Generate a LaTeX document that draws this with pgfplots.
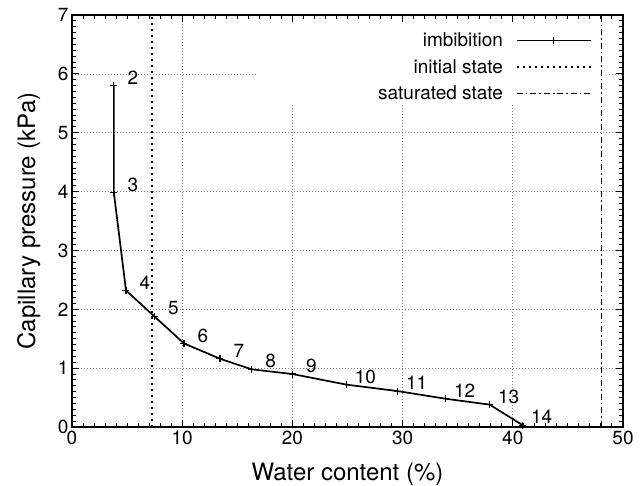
\documentclass[border=0pt]{standalone}
\usepackage{pgfplots}
\pgfplotsset{compat=1.18}
\usepackage{pgfplotstable}
\usepackage{fontspec}
\setmainfont{TeX Gyre Heros}

\pgfplotstableread{
x y lab
3.80 5.80 2
3.80 3.98 3
4.90 2.32 4
7.47 1.88 5
10.16 1.42 6
13.43 1.16 7
16.30 0.98 8
20.00 0.90 9
24.90 0.72 10
29.55 0.61 11
33.90 0.48 12
37.90 0.38 13
40.90 0.03 14
}\imbdata

\newcommand\tickfont{\fontsize{19}{22}\selectfont}
\newcommand\labfont{\fontsize{24}{28}\selectfont}

\begin{document}
\begin{tikzpicture}
\useasboundingbox (-72pt,-59pt) rectangle (572pt,427pt);
\begin{axis}[
 scale only axis, width=551pt, height=412pt,
 xmin=0,xmax=50,ymin=0,ymax=7,
 xtick={0,10,...,50}, ytick={0,1,...,7},
 minor tick num=9,
 tick align=inside,
 xtick pos=both, ytick pos=both,
 major tick length=7pt, minor tick length=4pt,
 every tick/.style={draw=black, line width=1pt},
 every minor tick/.style={draw=black, line width=1pt},
 axis line style={line width=1.4pt},
 grid=major,
 grid style={gray, line width=0.7pt, dash pattern=on 1pt off 2pt},
 /pgf/number format/assume math mode=true,
 ticklabel style={font=\tickfont},
 xlabel={Water content (\%)},
 ylabel={Capillary pressure (kPa)},
 label style={font=\labfont},
 xlabel style={at={(axis description cs:0.5,-0.087)}, anchor=north, inner sep=0pt},
 ylabel style={at={(axis description cs:-0.0998,0.5)}, anchor=north, inner sep=0pt},
 legend plot pos=right,
 legend cell align=right,
 legend style={at={(axis cs:47.19,6.70)}, anchor=north east, draw=none, fill=none, font=\tickfont, inner sep=0pt, row sep=11pt, column sep=13pt, nodes={inner sep=0pt}},
 legend image code/.code={\draw[mark repeat=2,mark phase=2,#1] plot coordinates {(0pt,0pt) (37pt,0pt) (74pt,0pt)};},
]
\fill[white] (axis cs:16.88,5.47) rectangle (axis cs:48.55,6.86);
\addplot[black, line width=1.7pt, mark=+, mark size=3.5pt, mark options={line width=1.1pt}, point meta=explicit symbolic, nodes near coords, every node near coord/.style={anchor=center, xshift=19pt, yshift=8pt, font=\tickfont, black}] table[x=x,y=y,meta=lab] {\imbdata};
\addlegendentry{imbibition}
\addplot[black, line width=1.8pt, dash pattern=on 1.8pt off 4.2pt] coordinates {(7.23,0) (7.23,7)};
\addlegendentry{initial state}
\addplot[black, line width=1.4pt, dash pattern=on 6pt off 3pt on 1.5pt off 3pt] coordinates {(48.06,0) (48.06,7)};
\addlegendentry{saturated state}
\end{axis}
\end{tikzpicture}
\end{document}
